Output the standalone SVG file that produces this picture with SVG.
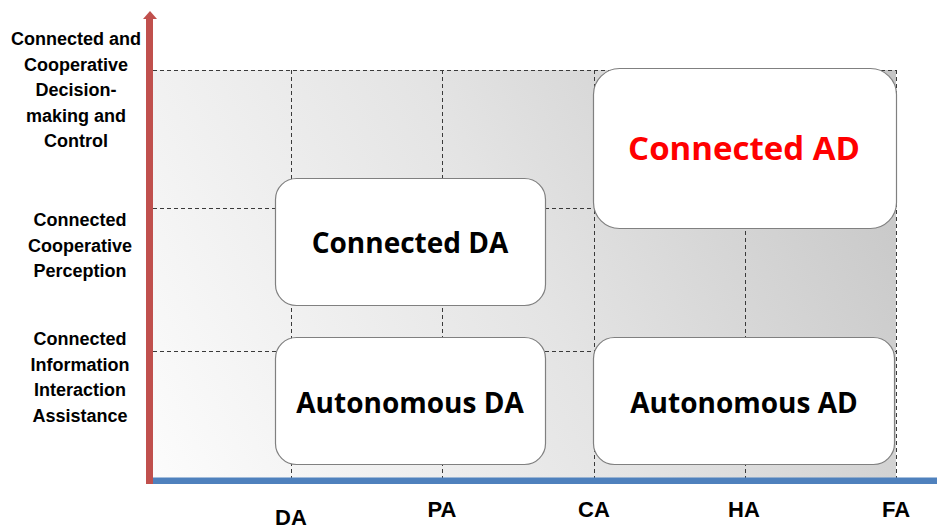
<svg xmlns="http://www.w3.org/2000/svg" width="937" height="529" viewBox="0 0 937 529">
  <defs>
    <linearGradient id="bgGrad" gradientUnits="userSpaceOnUse" x1="153" y1="478" x2="896" y2="70">
      <stop offset="0" stop-color="#fcfcfc"/>
      <stop offset="0.5" stop-color="#e4e4e4"/>
      <stop offset="1" stop-color="#c4c4c4"/>
    </linearGradient>
    <style>
      .grid { stroke: #3a3a3a; stroke-width: 1; stroke-dasharray: 4 3; fill: none; }
      .box { fill: #ffffff; stroke: #808080; stroke-width: 1.2; }
      .boxText { font-family: "Open Sans", "Noto Sans", sans-serif; font-weight: 700; font-size: 28px; text-anchor: middle; fill: #000000; }
      .axisText { font-family: "Liberation Sans", Arial, sans-serif; font-weight: 700; font-size: 18px; text-anchor: middle; fill: #000000; }
      .tickText { font-family: "Liberation Sans", Arial, sans-serif; font-weight: 700; font-size: 22px; text-anchor: middle; fill: #000000; }
    </style>
  </defs>

  <rect width="937" height="529" fill="#ffffff"/>

  <!-- shaded plane -->
  <rect x="153" y="70" width="743" height="408" fill="url(#bgGrad)"/>

  <!-- grid -->
  <g id="grid">
    <line class="grid" x1="153" y1="70.5" x2="896" y2="70.5"/>
    <line class="grid" x1="153" y1="208.5" x2="896" y2="208.5"/>
    <line class="grid" x1="153" y1="351.5" x2="896" y2="351.5"/>
    <line class="grid" x1="291.5" y1="70" x2="291.5" y2="478"/>
    <line class="grid" x1="442.5" y1="70" x2="442.5" y2="478"/>
    <line class="grid" x1="594.5" y1="70" x2="594.5" y2="478"/>
    <line class="grid" x1="745.5" y1="70" x2="745.5" y2="478"/>
    <line class="grid" x1="896.5" y1="70" x2="896.5" y2="478"/>
  </g>

  <!-- axes -->
  <g id="axes">
    <rect x="153" y="477.5" width="784" height="6.5" fill="#4f81bd"/>
    <rect x="146" y="18" width="7" height="466" fill="#c0504d"/>
    <polygon points="143,19 157,19 150,11" fill="#c0504d"/>
  </g>

  <!-- nodes -->
  <g id="node-connected-da">
    <rect class="box" x="275.5" y="178.5" width="270" height="127" rx="21"/>
    <text class="boxText" x="410" y="252.5">Connected DA</text>
  </g>
  <g id="node-autonomous-da">
    <rect class="box" x="275.5" y="337.5" width="270" height="127" rx="21"/>
    <text class="boxText" x="410" y="412.5">Autonomous DA</text>
  </g>
  <g id="node-connected-ad">
    <rect class="box" x="593.5" y="68.5" width="303" height="160" rx="26"/>
    <text class="boxText" x="744" y="160" style="font-size:33px; fill:#ff0000">Connected AD</text>
  </g>
  <g id="node-autonomous-ad">
    <rect class="box" x="593.5" y="337.5" width="301" height="127" rx="21"/>
    <text class="boxText" x="744" y="412.5">Autonomous AD</text>
  </g>

  <!-- vertical axis labels -->
  <g id="y-labels">
    <text class="axisText" x="76" y="45">Connected and</text>
    <text class="axisText" x="76" y="70.5">Cooperative</text>
    <text class="axisText" x="76" y="96">Decision-</text>
    <text class="axisText" x="76" y="121.5">making and</text>
    <text class="axisText" x="76" y="147">Control</text>

    <text class="axisText" x="80" y="226">Connected</text>
    <text class="axisText" x="80" y="251.5">Cooperative</text>
    <text class="axisText" x="80" y="277">Perception</text>

    <text class="axisText" x="80" y="345">Connected</text>
    <text class="axisText" x="80" y="370.5">Information</text>
    <text class="axisText" x="80" y="396">Interaction</text>
    <text class="axisText" x="80" y="421.5">Assistance</text>
  </g>

  <!-- horizontal axis labels -->
  <g id="x-labels">
    <text class="tickText" x="291" y="525">DA</text>
    <text class="tickText" x="442" y="517">PA</text>
    <text class="tickText" x="594" y="517">CA</text>
    <text class="tickText" x="744" y="517">HA</text>
    <text class="tickText" x="896" y="517">FA</text>
  </g>
</svg>
